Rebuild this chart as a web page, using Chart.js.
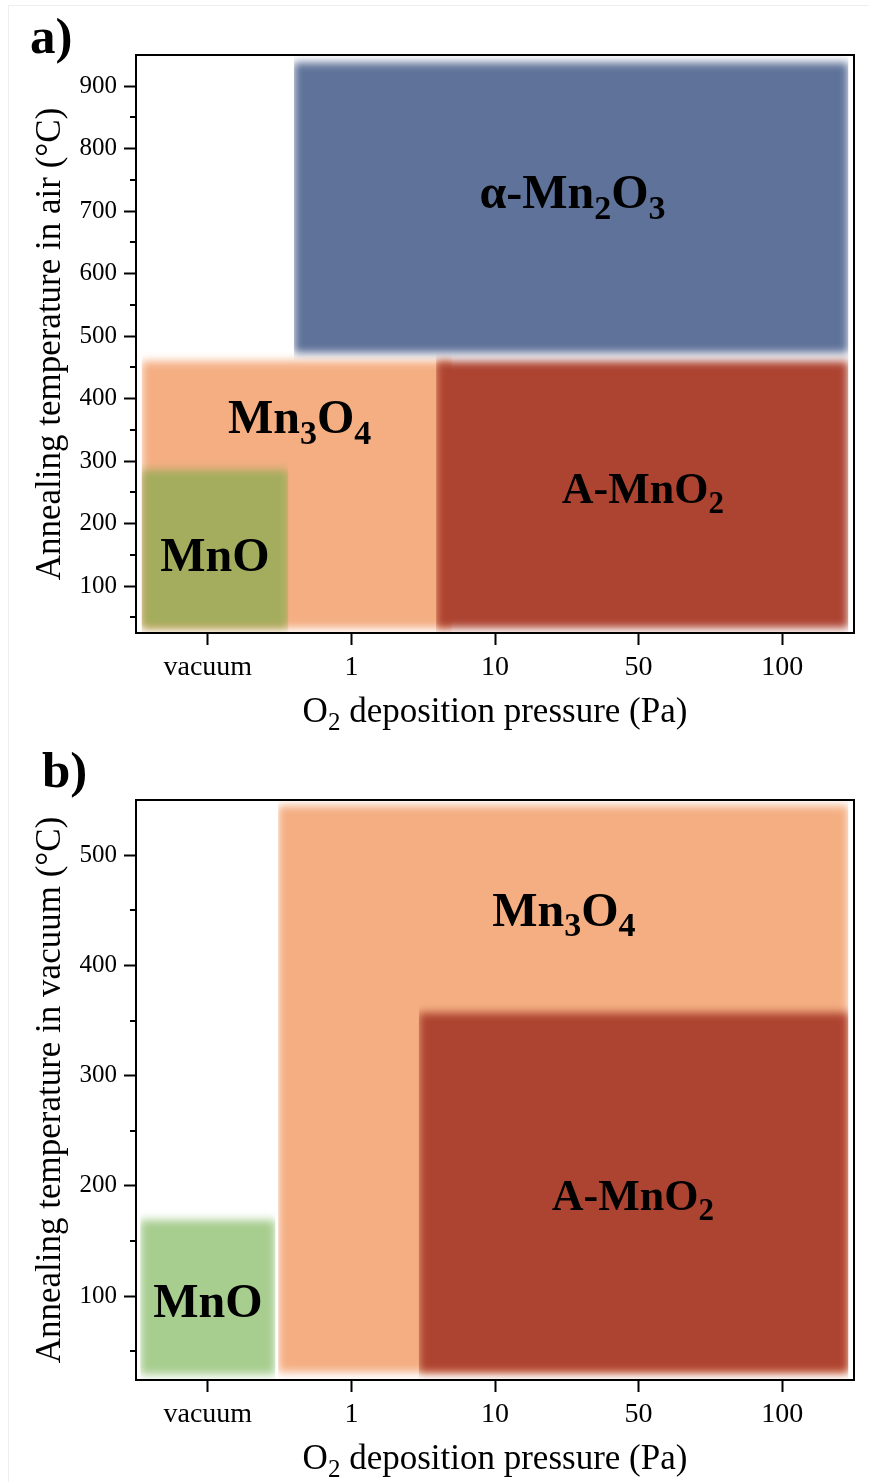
<!DOCTYPE html>
<html>
<head>
<meta charset="utf-8">
<title>MnOx phase diagram</title>
<script src="https://cdn.jsdelivr.net/npm/chart.js"></script>
<style>
    body { margin: 0; background: #fff; }
    .panel { position: absolute; left: 0; width: 869px; height: 741px; }
</style>
</head>
<body>
<div style="position:absolute;left:8px;top:5px;width:880px;height:1500px;border-left:1px solid #eee;border-top:1px solid #eee;"></div>
<div class="panel" style="top:0"><canvas id="chartA"></canvas></div>
<div class="panel" style="top:741px"><canvas id="chartB"></canvas></div>
<script>
const SERIF = '"Liberation Serif", "Times New Roman", serif';

// x axis categories (index positions 0..4)
const pressureLabels = ['vacuum', '1', '10', '50', '100'];

// a) annealing in air
const airTicks = [100, 200, 300, 400, 500, 600, 700, 800, 900];
const airMinorTicks = [50, 150, 250, 350, 450, 550, 650, 750, 850];
const airRectPhase = ['Mn3O4', 'A-MnO2', 'MnO', 'aMn2O3'];   // drawn bottom -> top
const airX0 = [-0.46, 1.59, -0.46, 0.60];
const airX1 = [1.70, 4.46, 0.56, 4.46];
const airTLow = [33, 33, 33, 473];
const airTHigh = [460, 460, 286, 938];
const airLabelText = ['α-Mn_2O_3', 'Mn_3O_4', 'A-MnO_2', 'MnO'];
const airLabelX = [2.54, 0.64, 3.03, 0.05];
const airLabelT = [705, 345, 233, 124];

// b) annealing in vacuum
const vacTicks = [100, 200, 300, 400, 500];
const vacMinorTicks = [50, 150, 250, 350, 450];
const vacRectPhase = ['Mn3O4', 'A-MnO2', 'MnO'];
const vacX0 = [0.49, 1.47, -0.47];
const vacX1 = [4.46, 4.46, 0.47];
const vacTLow = [31, 31, 29];
const vacTHigh = [545, 357, 169];
const vacLabelText = ['Mn_3O_4', 'A-MnO_2', 'MnO'];
const vacLabelX = [2.48, 2.96, 0.0];
const vacLabelT = [436, 178, 81];

const phaseColors = {
    'aMn2O3': '#5f7299',
    'Mn3O4': '#f4ae82',
    'A-MnO2': '#ad4331',
    'MnO': '#a3ad5d',
    'MnO-vac': '#a7cd8f'
};
// the A-MnO2 label is set a bit smaller in the original
const labelFontSize = { 'A-MnO_2': 44 };

// draw text with "_x" meaning subscript x
function richParts(str) {
    const parts = [];
    let buf = '';
    for (let i = 0; i < str.length; i++) {
        if (str[i] === '_') {
            if (buf) parts.push([buf, false]);
            buf = '';
            parts.push([str[i + 1], true]);
            i++;
        } else {
            buf += str[i];
        }
    }
    if (buf) parts.push([buf, false]);
    return parts;
}

function drawRich(ctx, str, x, y, size, weight, align) {
    const parts = richParts(str);
    const subSize = Math.round(size * 0.7);
    const fontMain = weight + ' ' + size + 'px ' + SERIF;
    const fontSub = weight + ' ' + subSize + 'px ' + SERIF;
    let w = 0;
    parts.forEach(p => { ctx.font = p[1] ? fontSub : fontMain; w += ctx.measureText(p[0]).width; });
    let cx = align === 'center' ? x - w / 2 : x;
    ctx.textAlign = 'left';
    ctx.textBaseline = 'alphabetic';
    parts.forEach(p => {
        ctx.font = p[1] ? fontSub : fontMain;
        ctx.fillText(p[0], cx, p[1] ? y + size * 0.22 : y);
        cx += ctx.measureText(p[0]).width;
    });
}

const decorPlugin = {
    id: 'decor',
    beforeDatasetsDraw(chart) {
        chart.ctx.save();
        chart.ctx.filter = 'blur(4px)';
    },
    afterDatasetsDraw(chart) {
        chart.ctx.restore();
    },
    afterDraw(chart, args, opts) {
        const ctx = chart.ctx;
        const a = chart.chartArea;
        const ys = chart.scales.y;
        ctx.save();
        ctx.strokeStyle = '#000';
        ctx.fillStyle = '#000';
        ctx.lineWidth = 2;
        ctx.strokeRect(a.left, a.top, a.right - a.left, a.bottom - a.top);

        // minor ticks
        opts.minor.forEach(v => {
            const py = Math.round(ys.getPixelForValue(v));
            ctx.beginPath();
            ctx.moveTo(a.left - 6, py);
            ctx.lineTo(a.left, py);
            ctx.stroke();
        });

        // phase labels
        opts.labels.forEach((t, i) => {
            drawRich(ctx, t, chart.scales.x.getPixelForValue(opts.labelX[i]),
                ys.getPixelForValue(opts.labelT[i]), labelFontSize[t] || 48, 'bold', 'center');
        });

        // x title
        drawRich(ctx, 'O_2 deposition pressure (Pa)', (a.left + a.right) / 2, a.bottom + 89, 35, 'normal', 'center');

        // y title
        ctx.save();
        ctx.translate(60, (a.top + a.bottom) / 2);
        ctx.rotate(-Math.PI / 2);
        drawRich(ctx, opts.yTitle, 0, 0, 35, 'normal', 'center');
        ctx.restore();

        // panel letter
        ctx.font = 'bold 51px ' + SERIF;
        ctx.textAlign = 'left';
        ctx.fillText(opts.letter, opts.letterX, opts.letterY);
        ctx.restore();
    }
};

function makeChart(id, p) {
    const datasets = p.phase.map((ph, i) => ({
        data: [{ x: p.x0[i], y: p.tHigh[i] }, { x: p.x1[i], y: p.tHigh[i] }],
        fill: { value: p.tLow[i] },
        backgroundColor: phaseColors[ph === 'MnO' && p.vac ? 'MnO-vac' : ph],
        borderWidth: 0,
        pointRadius: 0,
        order: p.phase.length - i
    }));

    return new Chart(document.getElementById(id), {
        type: 'line',
        data: { datasets: datasets },
        plugins: [decorPlugin],
        options: {
            responsive: true,
            maintainAspectRatio: false,
            animation: false,
            layout: { padding: { top: p.top, right: 15, left: 0, bottom: 0 } },
            scales: {
                x: {
                    type: 'linear',
                    min: -0.5,
                    max: 4.5,
                    afterBuildTicks: s => { s.ticks = pressureLabels.map((l, i) => ({ value: i })); },
                    afterFit: s => { s.height = p.xHeight; },
                    ticks: {
                        callback: v => pressureLabels[v],
                        autoSkip: false,
                        maxRotation: 0,
                        padding: 6,
                        color: '#000',
                        font: { family: SERIF, size: 28 }
                    },
                    grid: { drawOnChartArea: false, tickLength: 12, tickWidth: 2, tickColor: '#000' },
                    border: { display: true, color: '#000', width: 2 }
                },
                y: {
                    min: p.yMin,
                    max: p.yMax,
                    afterBuildTicks: s => { s.ticks = p.ticks.map(v => ({ value: v })); },
                    afterFit: s => { s.width = 136; },
                    ticks: {
                        padding: 7,
                        color: '#000',
                        font: { family: SERIF, size: 25 }
                    },
                    grid: { drawOnChartArea: false, tickLength: 12, tickWidth: 2, tickColor: '#000' },
                    border: { display: true, color: '#000', width: 2 }
                }
            },
            plugins: {
                legend: { display: false },
                tooltip: { enabled: false },
                decor: {
                    minor: p.minor,
                    labels: p.labels,
                    labelX: p.labelX,
                    labelT: p.labelT,
                    yTitle: p.yTitle,
                    letter: p.letter,
                    letterX: p.letterX,
                    letterY: p.letterY
                }
            }
        }
    });
}

makeChart('chartA', {
    phase: airRectPhase, x0: airX0, x1: airX1, tLow: airTLow, tHigh: airTHigh,
    ticks: airTicks, minor: airMinorTicks, yMin: 25, yMax: 950,
    labels: airLabelText, labelX: airLabelX, labelT: airLabelT,
    yTitle: 'Annealing temperature in air (°C)',
    letter: 'a)', letterX: 30, letterY: 53,
    top: 55, xHeight: 108, vac: false
});

makeChart('chartB', {
    phase: vacRectPhase, x0: vacX0, x1: vacX1, tLow: vacTLow, tHigh: vacTHigh,
    ticks: vacTicks, minor: vacMinorTicks, yMin: 24, yMax: 550,
    labels: vacLabelText, labelX: vacLabelX, labelT: vacLabelT,
    yTitle: 'Annealing temperature in vacuum (°C)',
    letter: 'b)', letterX: 42, letterY: 46,
    top: 59, xHeight: 102, vac: true
});
</script>
</body>
</html>
